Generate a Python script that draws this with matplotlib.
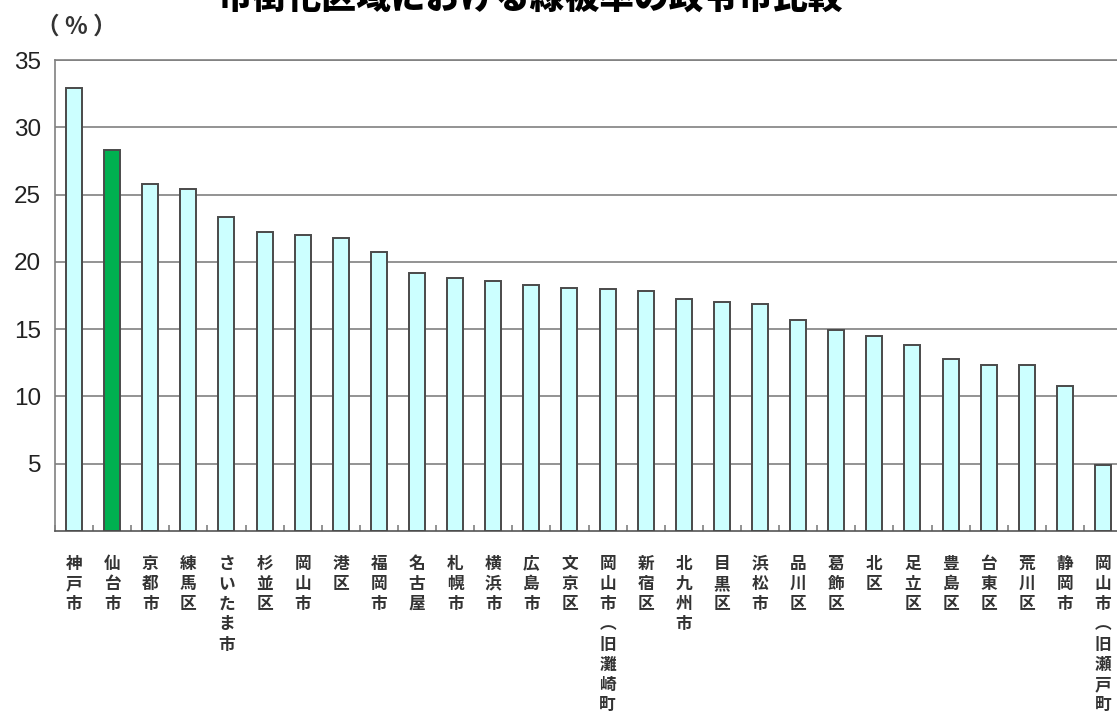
import matplotlib
matplotlib.use("Agg")
import matplotlib.pyplot as plt
import numpy as np

plt.rcParams['font.family'] = ['Noto Sans CJK JP', 'DejaVu Sans']

# 市街化区域の緑被率（%）
areas = [
    "神戸市", "仙台市", "京都市", "練馬区", "さいたま市", "杉並区", "岡山市",
    "港区", "福岡市", "名古屋", "札幌市", "横浜市", "広島市", "文京区",
    "岡山市(旧灘崎町)", "新宿区", "北九州市", "目黒区", "浜松市", "品川区",
    "葛飾区", "北区", "足立区", "豊島区", "台東区", "荒川区", "静岡市",
    "岡山市(旧瀬戸町)",
]
rates = [
    32.9, 28.3, 25.8, 25.4, 23.3, 22.2, 22.0,
    21.8, 20.7, 19.2, 18.8, 18.6, 18.25, 18.05,
    17.95, 17.8, 17.25, 17.05, 16.9, 15.7,
    14.9, 14.5, 13.8, 12.8, 12.3, 12.3, 10.8,
    4.9,
]
highlight = "仙台市"
yticks = [5, 10, 15, 20, 25, 30, 35]


def vertical(label):
    # stack characters top to bottom, using vertical-form brackets
    label = label.replace("(", "\ufe35").replace(")", "\ufe36")
    return "\n".join(label)


W, H = 1117, 713
fig = plt.figure(figsize=(W / 100, H / 100), dpi=100)
slot = 38.11
ax = fig.add_axes([55 / W, (H - 531) / H, 28 * slot / W, 471 / H])

x = np.arange(len(areas))
colors = ["#00b050" if a == highlight else "#ccffff" for a in areas]
ax.bar(x, rates, width=0.42, color=colors, edgecolor="#4a4a4a",
       linewidth=1.4, zorder=3)

ax.set_xlim(-0.5, len(areas) - 0.5)
ax.set_ylim(0, 35)
ax.set_yticks(yticks)
ax.set_yticklabels([str(v) for v in yticks], fontsize=17.5,
                   family=['Liberation Sans', 'DejaVu Sans'], color="#222222")
ax.tick_params(axis='y', length=0, pad=10)
ax.yaxis.grid(True, color="#808080", linewidth=1.2, zorder=0)

ax.set_xticks(x)
ax.set_xticklabels([vertical(a) for a in areas], fontsize=12,
                   fontweight='bold', linespacing=1.16, va='top',
                   color="#333333")
ax.tick_params(axis='x', length=0, pad=17)
ax.set_xticks(np.arange(len(areas) + 1) - 0.5, minor=True)
ax.tick_params(axis='x', which='minor', direction='in', length=4,
               width=1.2, color="#808080")

for side in ['left', 'bottom', 'top']:
    ax.spines[side].set_color("#808080")
    ax.spines[side].set_linewidth(1.2)
ax.spines['bottom'].set_color("#555555")
ax.spines['right'].set_visible(False)

fig.text(36 / W, 1 - 27 / H, "（ % ）", fontsize=17, fontweight='bold',
         color="#333333", ha='left', va='center')
fig.text(530 / W, 1 - 9 / H, "市街化区域における緑被率の政令市比較",
         fontsize=25, fontweight='heavy', ha='center', va='baseline')

fig.savefig("out.png", dpi=100)
